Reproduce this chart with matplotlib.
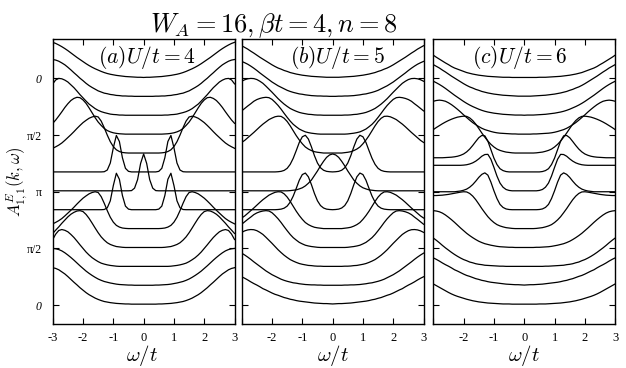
import numpy as np
import matplotlib
matplotlib.use("Agg")
import matplotlib.pyplot as plt

plt.rcParams["mathtext.fontset"] = "cm"
plt.rcParams["font.family"] = ["Liberation Serif", "DejaVu Serif"]

# omega/t for the right half of each panel; the spectra are symmetric in omega
omega_half = [0.0, 0.1, 0.2, 0.3, 0.4, 0.5, 0.6, 0.7, 0.8, 0.9, 1.0,
              1.1, 1.2, 1.3, 1.4, 1.5, 1.6, 1.7, 1.8, 1.9, 2.0,
              2.1, 2.2, 2.3, 2.4, 2.5, 2.6, 2.7, 2.8, 2.9, 3.0]

# vertical offset of each curve (top curve first)
offsets = [12, 11, 10, 9, 8, 7, 6, 5, 4, 3, 2, 1, 0]
ytick_pos = [0, 3, 6, 9, 12]
ytick_labels = ["0", "π/2", "π", "π/2", "0"]

# (a) U/t = 4
spec_u4 = [
    [0.05, 0.06, 0.06, 0.07, 0.08, 0.09, 0.10, 0.12, 0.14, 0.16, 0.19, 0.22, 0.26, 0.31, 0.37, 0.44, 0.51, 0.59, 0.68, 0.78, 0.89, 1.00, 1.11, 1.23, 1.35, 1.47, 1.58, 1.68, 1.77, 1.85, 1.91],
    [0.05, 0.05, 0.05, 0.05, 0.06, 0.06, 0.07, 0.07, 0.09, 0.10, 0.13, 0.15, 0.19, 0.22, 0.28, 0.34, 0.43, 0.52, 0.62, 0.74, 0.88, 1.01, 1.16, 1.30, 1.45, 1.59, 1.72, 1.82, 1.91, 1.97, 2.00],
    [0.05, 0.05, 0.05, 0.05, 0.05, 0.05, 0.05, 0.06, 0.06, 0.08, 0.09, 0.11, 0.15, 0.19, 0.24, 0.31, 0.40, 0.52, 0.64, 0.80, 0.97, 1.14, 1.33, 1.51, 1.66, 1.81, 1.91, 1.98, 2.00, 1.92, 1.71],
    [0.05, 0.05, 0.05, 0.05, 0.05, 0.05, 0.05, 0.06, 0.07, 0.09, 0.12, 0.17, 0.24, 0.35, 0.51, 0.69, 0.92, 1.18, 1.44, 1.68, 1.86, 1.98, 2.00, 1.94, 1.83, 1.66, 1.46, 1.23, 1.01, 0.80, 0.62],
    [0.05, 0.05, 0.05, 0.05, 0.05, 0.05, 0.06, 0.08, 0.13, 0.22, 0.39, 0.65, 1.00, 1.39, 1.74, 1.96, 2.00, 1.96, 1.89, 1.78, 1.66, 1.51, 1.35, 1.18, 1.02, 0.87, 0.72, 0.58, 0.47, 0.38, 0.30],
    [0.05, 0.05, 0.05, 0.05, 0.05, 0.08, 0.24, 0.80, 1.66, 1.98, 1.33, 0.52, 0.15, 0.06, 0.05, 0.05, 0.05, 0.05, 0.05, 0.05, 0.05, 0.05, 0.05, 0.05, 0.05, 0.05, 0.05, 0.05, 0.05, 0.05, 0.05],
    [2.00, 1.50, 0.64, 0.19, 0.06, 0.05, 0.05, 0.05, 0.05, 0.05, 0.05, 0.05, 0.05, 0.05, 0.05, 0.05, 0.05, 0.05, 0.05, 0.05, 0.05, 0.05, 0.05, 0.05, 0.05, 0.05, 0.05, 0.05, 0.05, 0.05, 0.05],
    [0.05, 0.05, 0.05, 0.05, 0.05, 0.08, 0.24, 0.80, 1.66, 1.98, 1.33, 0.52, 0.15, 0.06, 0.05, 0.05, 0.05, 0.05, 0.05, 0.05, 0.05, 0.05, 0.05, 0.05, 0.05, 0.05, 0.05, 0.05, 0.05, 0.05, 0.05],
    [0.05, 0.05, 0.05, 0.05, 0.05, 0.05, 0.06, 0.08, 0.13, 0.22, 0.39, 0.65, 1.00, 1.39, 1.74, 1.96, 2.00, 1.96, 1.89, 1.78, 1.66, 1.51, 1.35, 1.18, 1.02, 0.87, 0.72, 0.58, 0.47, 0.38, 0.30],
    [0.05, 0.05, 0.05, 0.05, 0.05, 0.05, 0.05, 0.06, 0.08, 0.10, 0.15, 0.21, 0.30, 0.44, 0.61, 0.83, 1.08, 1.34, 1.59, 1.80, 1.95, 2.00, 1.98, 1.91, 1.81, 1.67, 1.50, 1.33, 1.14, 0.97, 0.79],
    [0.05, 0.05, 0.05, 0.05, 0.05, 0.05, 0.05, 0.05, 0.05, 0.06, 0.08, 0.10, 0.13, 0.17, 0.22, 0.30, 0.40, 0.51, 0.65, 0.81, 1.00, 1.19, 1.39, 1.58, 1.74, 1.88, 1.96, 2.00, 1.95, 1.76, 1.47],
    [0.05, 0.05, 0.05, 0.05, 0.06, 0.06, 0.07, 0.08, 0.09, 0.11, 0.14, 0.17, 0.21, 0.25, 0.31, 0.38, 0.47, 0.57, 0.68, 0.80, 0.94, 1.08, 1.23, 1.38, 1.52, 1.65, 1.77, 1.87, 1.94, 1.98, 2.00],
    [0.05, 0.05, 0.05, 0.05, 0.05, 0.06, 0.06, 0.07, 0.08, 0.09, 0.11, 0.13, 0.16, 0.19, 0.24, 0.30, 0.37, 0.46, 0.55, 0.66, 0.79, 0.92, 1.07, 1.21, 1.36, 1.51, 1.65, 1.76, 1.87, 1.94, 1.98],
]

# (b) U/t = 5
spec_u5 = [
    [0.06, 0.06, 0.06, 0.07, 0.08, 0.09, 0.10, 0.11, 0.13, 0.15, 0.17, 0.20, 0.23, 0.27, 0.31, 0.37, 0.42, 0.49, 0.55, 0.63, 0.72, 0.82, 0.92, 1.02, 1.12, 1.23, 1.34, 1.44, 1.55, 1.64, 1.73],
    [0.05, 0.05, 0.06, 0.06, 0.07, 0.07, 0.08, 0.09, 0.11, 0.13, 0.16, 0.18, 0.22, 0.26, 0.31, 0.37, 0.45, 0.53, 0.61, 0.71, 0.81, 0.93, 1.05, 1.17, 1.29, 1.42, 1.54, 1.65, 1.75, 1.83, 1.90],
    [0.05, 0.05, 0.05, 0.05, 0.06, 0.06, 0.07, 0.09, 0.10, 0.13, 0.16, 0.20, 0.26, 0.33, 0.41, 0.52, 0.64, 0.78, 0.93, 1.10, 1.27, 1.43, 1.59, 1.74, 1.85, 1.94, 1.99, 2.00, 1.98, 1.93, 1.85],
    [0.05, 0.05, 0.05, 0.05, 0.05, 0.06, 0.08, 0.10, 0.13, 0.17, 0.24, 0.32, 0.44, 0.57, 0.74, 0.94, 1.15, 1.37, 1.57, 1.74, 1.89, 1.98, 2.00, 1.98, 1.94, 1.88, 1.79, 1.66, 1.54, 1.41, 1.28],
    [0.05, 0.05, 0.05, 0.05, 0.07, 0.09, 0.12, 0.18, 0.26, 0.37, 0.54, 0.74, 0.97, 1.23, 1.49, 1.72, 1.89, 1.99, 2.00, 1.97, 1.90, 1.82, 1.70, 1.58, 1.44, 1.29, 1.14, 1.00, 0.86, 0.72, 0.61],
    [0.05, 0.06, 0.08, 0.14, 0.27, 0.52, 0.91, 1.38, 1.79, 1.99, 1.91, 1.61, 1.18, 0.77, 0.45, 0.24, 0.13, 0.08, 0.06, 0.05, 0.05, 0.05, 0.05, 0.05, 0.05, 0.05, 0.05, 0.05, 0.05, 0.05, 0.05],
    [2.00, 1.95, 1.82, 1.61, 1.37, 1.10, 0.86, 0.62, 0.45, 0.31, 0.21, 0.15, 0.10, 0.08, 0.06, 0.05, 0.05, 0.05, 0.05, 0.05, 0.05, 0.05, 0.05, 0.05, 0.05, 0.05, 0.05, 0.05, 0.05, 0.05, 0.05],
    [0.05, 0.06, 0.08, 0.14, 0.27, 0.52, 0.91, 1.38, 1.79, 1.99, 1.91, 1.61, 1.18, 0.77, 0.45, 0.24, 0.13, 0.08, 0.06, 0.05, 0.05, 0.05, 0.05, 0.05, 0.05, 0.05, 0.05, 0.05, 0.05, 0.05, 0.05],
    [0.05, 0.05, 0.05, 0.05, 0.07, 0.09, 0.12, 0.18, 0.26, 0.37, 0.54, 0.74, 0.97, 1.23, 1.49, 1.72, 1.89, 1.99, 2.00, 1.97, 1.90, 1.82, 1.70, 1.58, 1.44, 1.29, 1.14, 1.00, 0.86, 0.72, 0.61],
    [0.05, 0.05, 0.05, 0.05, 0.05, 0.06, 0.08, 0.10, 0.13, 0.17, 0.24, 0.32, 0.44, 0.57, 0.74, 0.94, 1.15, 1.37, 1.57, 1.74, 1.89, 1.98, 2.00, 1.98, 1.94, 1.88, 1.79, 1.66, 1.54, 1.41, 1.28],
    [0.05, 0.05, 0.05, 0.05, 0.06, 0.06, 0.07, 0.09, 0.10, 0.13, 0.16, 0.20, 0.26, 0.33, 0.41, 0.52, 0.64, 0.78, 0.93, 1.10, 1.27, 1.43, 1.59, 1.74, 1.85, 1.94, 1.99, 2.00, 1.98, 1.93, 1.85],
    [0.05, 0.05, 0.05, 0.05, 0.06, 0.06, 0.07, 0.07, 0.08, 0.09, 0.11, 0.13, 0.16, 0.18, 0.22, 0.26, 0.31, 0.37, 0.45, 0.53, 0.61, 0.71, 0.81, 0.93, 1.05, 1.17, 1.29, 1.42, 1.54, 1.65, 1.75],
    [0.06, 0.07, 0.08, 0.08, 0.09, 0.10, 0.11, 0.13, 0.15, 0.17, 0.19, 0.21, 0.24, 0.28, 0.31, 0.36, 0.40, 0.46, 0.52, 0.57, 0.64, 0.72, 0.80, 0.87, 0.97, 1.06, 1.14, 1.23, 1.33, 1.42, 1.50],
]

# (c) U/t = 6
spec_u6 = [
    [0.05, 0.05, 0.05, 0.05, 0.05, 0.06, 0.06, 0.06, 0.07, 0.08, 0.09, 0.10, 0.11, 0.13, 0.15, 0.17, 0.20, 0.23, 0.27, 0.31, 0.37, 0.43, 0.49, 0.55, 0.63, 0.73, 0.82, 0.92, 1.02, 1.12, 1.23],
    [0.06, 0.06, 0.06, 0.07, 0.08, 0.09, 0.10, 0.11, 0.13, 0.15, 0.17, 0.20, 0.23, 0.27, 0.31, 0.37, 0.42, 0.49, 0.55, 0.63, 0.72, 0.82, 0.92, 1.02, 1.12, 1.23, 1.34, 1.44, 1.55, 1.64, 1.73],
    [0.05, 0.06, 0.06, 0.06, 0.07, 0.08, 0.09, 0.10, 0.12, 0.14, 0.16, 0.19, 0.22, 0.26, 0.31, 0.37, 0.44, 0.51, 0.59, 0.68, 0.78, 0.89, 1.00, 1.11, 1.23, 1.35, 1.47, 1.58, 1.68, 1.77, 1.85],
    [0.05, 0.05, 0.05, 0.06, 0.06, 0.07, 0.08, 0.09, 0.10, 0.12, 0.15, 0.19, 0.24, 0.29, 0.36, 0.45, 0.55, 0.66, 0.79, 0.93, 1.07, 1.22, 1.36, 1.49, 1.61, 1.71, 1.79, 1.83, 1.85, 1.83, 1.79],
    [0.05, 0.05, 0.05, 0.05, 0.06, 0.08, 0.10, 0.14, 0.19, 0.26, 0.37, 0.51, 0.68, 0.89, 1.11, 1.35, 1.58, 1.77, 1.91, 1.99, 2.00, 1.98, 1.95, 1.90, 1.84, 1.77, 1.69, 1.60, 1.50, 1.40, 1.29],
    [0.05, 0.05, 0.05, 0.05, 0.05, 0.05, 0.07, 0.12, 0.22, 0.44, 0.78, 1.23, 1.68, 1.96, 1.98, 1.86, 1.66, 1.45, 1.26, 1.11, 1.00, 0.93, 0.88, 0.85, 0.83, 0.82, 0.81, 0.80, 0.80, 0.80, 0.80],
    [0.05, 0.05, 0.05, 0.05, 0.05, 0.07, 0.12, 0.24, 0.46, 0.83, 1.29, 1.72, 1.98, 1.97, 1.88, 1.74, 1.62, 1.53, 1.47, 1.43, 1.41, 1.40, 1.40, 1.40, 1.40, 1.40, 1.40, 1.40, 1.40, 1.40, 1.40],
    [0.05, 0.05, 0.05, 0.05, 0.05, 0.06, 0.09, 0.17, 0.33, 0.64, 1.05, 1.51, 1.88, 2.00, 1.92, 1.76, 1.56, 1.38, 1.24, 1.14, 1.08, 1.04, 1.02, 1.00, 1.00, 1.00, 1.00, 1.00, 1.00, 1.00, 1.00],
    [0.05, 0.05, 0.05, 0.05, 0.06, 0.08, 0.10, 0.14, 0.19, 0.26, 0.37, 0.51, 0.68, 0.89, 1.11, 1.35, 1.58, 1.77, 1.91, 1.99, 2.00, 1.98, 1.95, 1.92, 1.89, 1.86, 1.84, 1.82, 1.81, 1.80, 1.80],
    [0.05, 0.05, 0.05, 0.05, 0.06, 0.06, 0.07, 0.08, 0.09, 0.11, 0.14, 0.17, 0.21, 0.25, 0.31, 0.38, 0.47, 0.57, 0.68, 0.80, 0.94, 1.08, 1.23, 1.38, 1.52, 1.65, 1.77, 1.87, 1.94, 1.98, 2.00],
    [0.05, 0.05, 0.05, 0.05, 0.05, 0.05, 0.05, 0.06, 0.06, 0.07, 0.08, 0.09, 0.10, 0.11, 0.14, 0.16, 0.19, 0.24, 0.28, 0.35, 0.41, 0.49, 0.58, 0.68, 0.79, 0.91, 1.03, 1.16, 1.30, 1.43, 1.55],
    [0.06, 0.07, 0.08, 0.08, 0.09, 0.10, 0.11, 0.13, 0.15, 0.17, 0.19, 0.21, 0.24, 0.28, 0.31, 0.36, 0.40, 0.46, 0.52, 0.57, 0.64, 0.72, 0.80, 0.87, 0.97, 1.06, 1.14, 1.23, 1.33, 1.42, 1.50],
    [0.05, 0.05, 0.05, 0.05, 0.05, 0.06, 0.06, 0.06, 0.07, 0.08, 0.09, 0.10, 0.11, 0.13, 0.15, 0.17, 0.20, 0.23, 0.27, 0.31, 0.36, 0.41, 0.46, 0.52, 0.59, 0.67, 0.76, 0.85, 0.94, 1.03, 1.12],
]

panels = [spec_u4, spec_u5, spec_u6]
panel_labels = [r"$(a)U/t=4$", r"$(b)U/t=5$", r"$(c)U/t=6$"]
label_x = [0.518, 0.527, 0.477]
lefts = [0.0842, 0.3861, 0.6922]
xlabel_x = [0.2264, 0.532, 0.8374]

fig = plt.figure(figsize=(6.26, 3.68), dpi=100)

w = np.array(omega_half)
w_full = np.concatenate([-w[:0:-1], w])

for p, spec in enumerate(panels):
    ax = fig.add_axes([lefts[p], 0.1196, 0.2905, 0.7736])
    for off, row in zip(offsets, spec):
        r = np.array(row)
        ax.plot(w_full, np.concatenate([r[:0:-1], r]) + off, color="black", lw=0.9)

    ax.set_xlim(-3, 3)
    ax.set_ylim(-1.0, 14.07)
    ax.set_xticks([-3, -2, -1, 0, 1, 2, 3])
    ax.set_yticks(ytick_pos)
    if p == 0:
        ax.set_xticklabels(["-3", "-2", "-1", "0", "1", "2", "3"])
        ax.set_yticklabels(ytick_labels)
        for t in ax.get_yticklabels():
            if t.get_text() == "0":
                t.set_fontstyle("italic")
    else:
        ax.set_xticklabels(["", "-2", "-1", "0", "1", "2", "3"])
        ax.set_yticklabels([])
    ax.tick_params(direction="in", top=True, right=True, length=4, width=0.8)
    ax.tick_params(axis="x", labelsize=9, pad=5.5)
    ax.tick_params(axis="y", labelsize=8.5, pad=8)
    for s in ax.spines.values():
        s.set_linewidth(1.0)

    ax.text(label_x[p], 0.935, panel_labels[p], transform=ax.transAxes,
            ha="center", va="center", fontsize=15.5)
    fig.text(xlabel_x[p], 0.019, r"$\omega/t$", ha="center", va="baseline", fontsize=15)

fig.text(0.027, 0.505, r"$A^{E}_{1,1}(k,\omega)$", rotation=90, ha="center",
         va="center", fontsize=12)
fig.text(0.438, 0.914, r"$W_A=16,\beta t=4,n=8$", ha="center", va="baseline", fontsize=19)

fig.savefig("out.png", dpi=100)
